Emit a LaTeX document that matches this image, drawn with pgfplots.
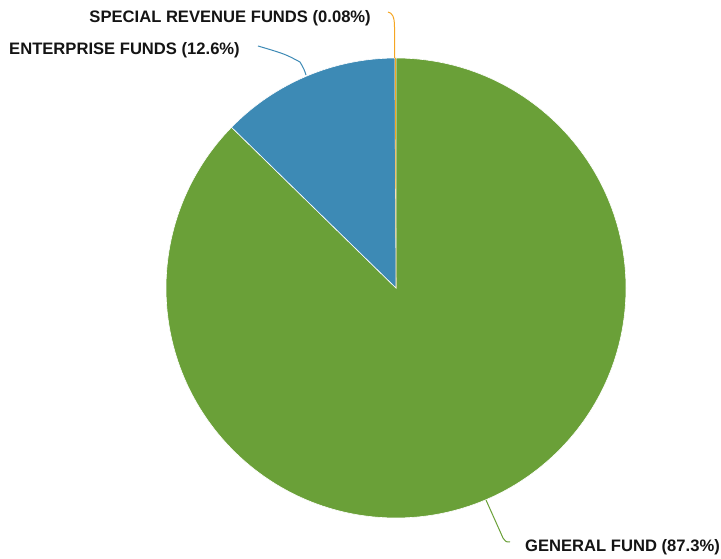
\documentclass[border=0pt]{standalone}
\usepackage{pgfplots}
\pgfplotsset{compat=1.18}
\usepackage{fontspec}
\setmainfont{Liberation Sans}
\definecolor{gfgreen}{RGB}{106,160,56}
\definecolor{efblue}{RGB}{61,138,181}
\definecolor{srorange}{RGB}{245,166,35}
\begin{document}
\begin{tikzpicture}
\path[use as bounding box] (0,0) rectangle (721pt,559pt);
% data (percent)
\def\pGF{87.3}\def\pEF{12.6}\def\pSR{0.08}
\pgfmathsetmacro\tot{\pGF+\pEF+\pSR}
\pgfmathsetmacro\aA{90}
\pgfmathsetmacro\aB{90-3.6*(100*(\pGF/\tot))}
\pgfmathsetmacro\aC{\aB-3.6*(100*(\pEF/\tot))}
\pgfmathsetmacro\aD{\aC-3.6*(100*(\pSR/\tot))}
\begin{axis}[at={(0,0)}, anchor=south west, scale only axis,
  width=721pt, height=559pt, xmin=0, xmax=721, ymin=0, ymax=559,
  hide axis, clip=false]
\fill[gfgreen, draw=white, line width=0.6pt] (axis cs:396,271) -- ++(\aA:230pt) arc[start angle=\aA, end angle=\aB, radius=230pt] -- cycle;
\fill[efblue, draw=white, line width=0.6pt] (axis cs:396,271) -- ++(\aB:230pt) arc[start angle=\aB, end angle=\aC, radius=230pt] -- cycle;
\fill[srorange] (axis cs:396,271) -- ++(\aC:230pt) arc[start angle=\aC, end angle=\aD, radius=230pt] -- cycle;
% leader lines
\draw[srorange, line width=1pt] (axis cs:394.5,501) -- (axis cs:394.5,532) .. controls (axis cs:394.5,543) and (axis cs:392,546) .. (axis cs:388,547);
\draw[efblue, line width=1pt] (axis cs:306,484) .. controls (axis cs:304,490) .. (axis cs:300,497) .. controls (axis cs:285,505) .. (axis cs:258,513);
\draw[gfgreen, line width=1pt] (axis cs:486,59) -- (axis cs:503,21) .. controls (axis cs:506,17) .. (axis cs:510,17);
% labels
\node[anchor=base east, inner sep=0pt, font=\bfseries\fontsize{16.6}{18}\selectfont, text=black!92] at (axis cs:371,536) {SPECIAL REVENUE FUNDS (0.08\%)};
\node[anchor=base east, inner sep=0pt, font=\bfseries\fontsize{16.6}{18}\selectfont, text=black!92] at (axis cs:240,504) {ENTERPRISE FUNDS (12.6\%)};
\node[anchor=base west, inner sep=0pt, font=\bfseries\fontsize{16.6}{18}\selectfont, text=black!92] at (axis cs:525,7) {GENERAL FUND (87.3\%)};
\end{axis}
\end{tikzpicture}
\end{document}
